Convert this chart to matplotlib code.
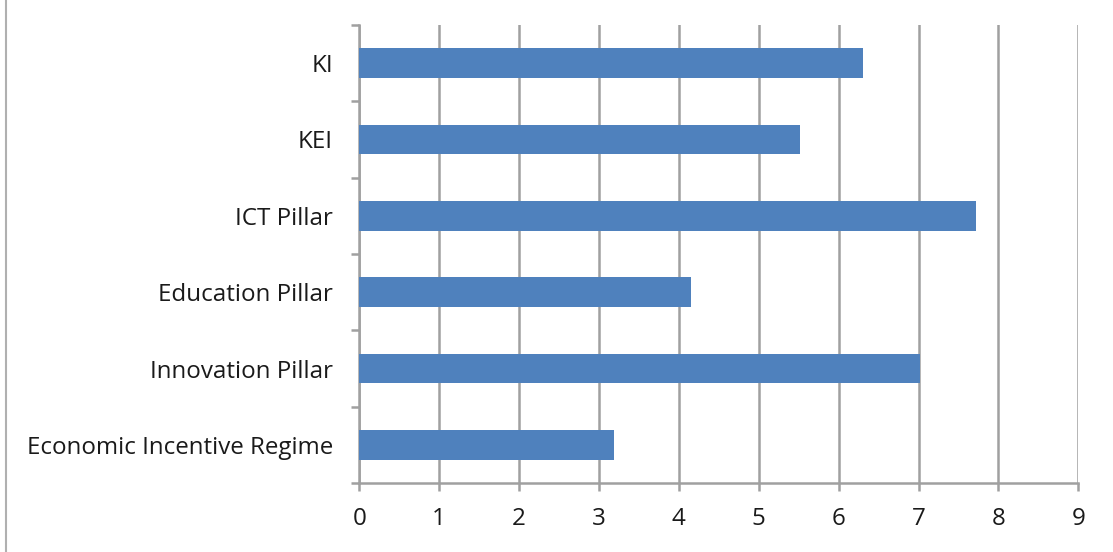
import matplotlib
matplotlib.use("Agg")
import matplotlib.pyplot as plt
from matplotlib.lines import Line2D
import numpy as np

categories = ["Economic Incentive Regime", "Innovation Pillar", "Education Pillar",
              "ICT Pillar", "KEI", "KI"]
values = [3.19, 7.02, 4.15, 7.72, 5.52, 6.30]
xticks = [0, 1, 2, 3, 4, 5, 6, 7, 8, 9]

plt.rcParams['font.family'] = ['Open Sans', 'DejaVu Sans']

fig = plt.figure(figsize=(11.13, 5.52), dpi=100)
ax = fig.add_axes([359.3/1113, 1 - 483/552, (1078.3 - 359.3)/1113, (483 - 25)/552])

grid_c = '#a0a0a0'
y = np.arange(len(categories))
ax.barh(y, values, height=0.39, color='#4F81BD', zorder=3)

ax.set_xlim(0, 9)
ax.set_ylim(-0.5, len(categories) - 0.5)
ax.set_xticks(xticks)
ax.set_xticklabels([str(t) for t in xticks])
ax.set_yticks(y)
ax.set_yticklabels(categories)
ax.set_yticks(np.arange(-0.5, len(categories), 1.0), minor=True)

ax.xaxis.grid(True, color=grid_c, linewidth=1.8, zorder=0)
ax.set_axisbelow(True)
for s in ['top', 'right']:
    ax.spines[s].set_visible(False)
for s in ['left', 'bottom']:
    ax.spines[s].set_color(grid_c)
    ax.spines[s].set_linewidth(1.8)

ax.tick_params(axis='x', length=6, width=1.8, color=grid_c, pad=11,
               labelsize=17.4, labelcolor='#1a1a1a')
ax.tick_params(axis='y', which='major', length=0, pad=19,
               labelsize=17.4, labelcolor='#1a1a1a')
ax.tick_params(axis='y', which='minor', length=6, width=1.8, color=grid_c)

fig.add_artist(Line2D([6/1113, 6/1113], [0, 1], transform=fig.transFigure,
                      color='#b0b0b0', linewidth=1.5))

fig.savefig("out.png", dpi=100)
